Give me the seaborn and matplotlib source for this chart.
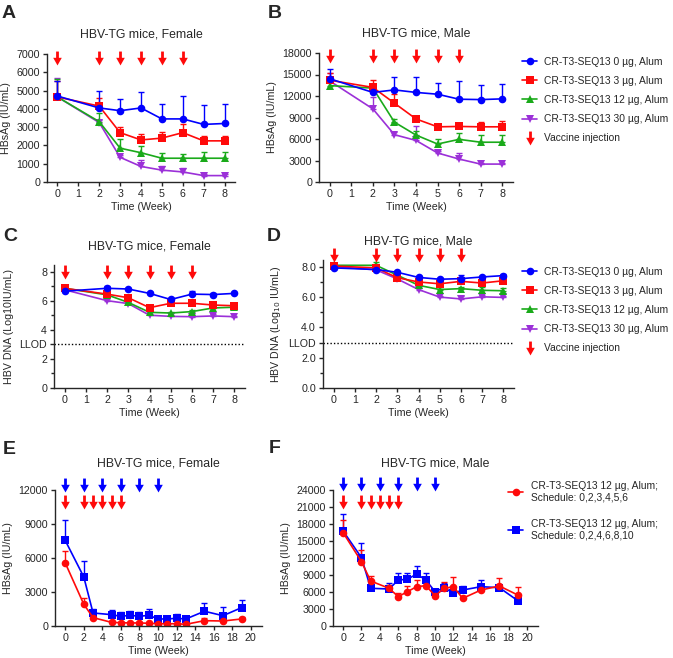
import numpy as np
import pandas as pd
import matplotlib
matplotlib.use("Agg")
import matplotlib.pyplot as plt
from matplotlib.path import Path
from matplotlib.lines import Line2D
import seaborn as sns

# time points (weeks)
weeks = [0, 2, 3, 4, 5, 6, 7, 8]
weeks_long = [0, 2, 3, 5, 6, 7, 8, 9, 10, 11, 12, 13, 15, 17, 19]
vaccine_weeks = [0, 2, 3, 4, 5, 6]
schedule1_weeks = [0, 2, 3, 4, 5, 6]
schedule2_weeks = [0, 2, 4, 6, 8, 10]

doses = ["0 µg", "3 µg", "12 µg", "30 µg"]

# A: HBsAg, female (mean, upper SD)
a_0ug = [4700, 4050, 3900, 4050, 3450, 3450, 3150, 3200]
a_0ug_sd = [800, 900, 650, 850, 800, 1250, 1050, 1050]
a_3ug = [4650, 4150, 2700, 2300, 2400, 2700, 2250, 2250]
a_3ug_sd = [900, 450, 300, 300, 350, 450, 250, 250]
a_12ug = [4650, 3300, 1850, 1600, 1300, 1300, 1300, 1300]
a_12ug_sd = [1000, 450, 500, 350, 300, 250, 350, 350]
a_30ug = [4650, 3250, 1350, 850, 650, 550, 350, 350]
a_30ug_sd = [1050, 150, 150, 350, 250, 200, 100, 100]

# B: HBsAg, male
b_0ug = [14400, 12500, 12850, 12500, 12250, 11550, 11500, 11600]
b_0ug_sd = [1350, 900, 1850, 2100, 1550, 2600, 2000, 2050]
b_3ug = [14200, 13200, 11000, 8800, 7700, 7750, 7700, 7700]
b_3ug_sd = [1000, 1050, 1250, 300, 250, 450, 700, 800]
b_12ug = [13450, 13100, 8350, 6550, 5300, 5950, 5550, 5550]
b_12ug_sd = [500, 400, 400, 500, 700, 850, 950, 1050]
b_30ug = [14100, 10200, 6600, 5800, 4050, 3200, 2500, 2500]
b_30ug_sd = [1150, 1700, 400, 2050, 250, 850, 200, 200]

# C: HBV DNA, female (log10 IU/mL)
c_0ug = [6.65, 6.85, 6.8, 6.5, 6.08, 6.45, 6.42, 6.5]
c_0ug_sd = [0.1, 0.15, 0.08, 0.08, 0.12, 0.2, 0.1, 0.08]
c_3ug = [6.85, 6.45, 6.2, 5.52, 5.82, 5.82, 5.7, 5.65]
c_3ug_sd = [0.1, 0.15, 0.2, 0.12, 0.15, 0.2, 0.12, 0.12]
c_12ug = [6.85, 6.4, 5.88, 5.2, 5.15, 5.25, 5.5, 5.55]
c_12ug_sd = [0.1, 0.1, 0.1, 0.1, 0.1, 0.12, 0.1, 0.1]
c_30ug = [6.75, 6.0, 5.8, 5.0, 4.92, 4.9, 4.95, 4.9]
c_30ug_sd = [0.1, 0.1, 0.1, 0.08, 0.08, 0.08, 0.1, 0.08]

# D: HBV DNA, male
d_0ug = [7.93, 7.82, 7.64, 7.3, 7.18, 7.22, 7.33, 7.42]
d_0ug_sd = [0.08, 0.1, 0.08, 0.1, 0.08, 0.25, 0.08, 0.08]
d_3ug = [8.05, 7.93, 7.28, 7.0, 6.88, 7.04, 6.93, 7.08]
d_3ug_sd = [0.1, 0.1, 0.1, 0.1, 0.1, 0.1, 0.1, 0.1]
d_12ug = [8.1, 8.1, 7.45, 6.78, 6.5, 6.56, 6.45, 6.42]
d_12ug_sd = [0.1, 0.2, 0.1, 0.1, 0.15, 0.1, 0.2, 0.2]
d_30ug = [8.02, 7.8, 7.2, 6.5, 6.0, 5.88, 6.02, 5.98]
d_30ug_sd = [0.1, 0.1, 0.1, 0.1, 0.1, 0.2, 0.1, 0.1]

# E: HBsAg, female, two schedules (12 µg)
e_sched1 = [5570, 1920, 740, 320, 290, 270, 270, 240, 200, 200, 200, 150, 470, 440, 620]
e_sched1_sd = [1030, 530, 260, 100, 100, 100, 100, 100, 80, 80, 80, 60, 210, 200, 210]
e_sched2 = [7550, 4330, 1150, 1000, 850, 950, 850, 950, 620, 620, 680, 620, 1300, 910, 1620]
e_sched2_sd = [1800, 1420, 350, 400, 400, 400, 400, 550, 180, 300, 350, 300, 700, 740, 650]

# F: HBsAg, male, two schedules
f_sched1 = [16470, 11350, 7940, 6650, 5180, 6060, 6940, 7120, 5350, 6650, 6940, 4880, 6350, 7060, 5470]
f_sched1_sd = [2230, 2060, 880, 600, 700, 1060, 1180, 1000, 1000, 1170, 1760, 500, 800, 1350, 1470]
f_sched2 = [16760, 12060, 6650, 6530, 8120, 8240, 9180, 8120, 6060, 6760, 5760, 6350, 6940, 6760, 4470]
f_sched2_sd = [2940, 2600, 300, 1000, 1170, 1110, 1470, 1180, 500, 770, 300, 770, 1180, 500, 300]

dose_labels = ["CR-T3-SEQ13 0 µg, Alum", "CR-T3-SEQ13 3 µg, Alum",
               "CR-T3-SEQ13 12 µg, Alum", "CR-T3-SEQ13 30 µg, Alum"]
sched_labels = ["CR-T3-SEQ13 12 µg, Alum;\nSchedule: 0,2,3,4,5,6",
                "CR-T3-SEQ13 12 µg, Alum;\nSchedule: 0,2,4,6,8,10"]

sns.set_style("ticks")
plt.rcParams["font.family"] = ["Liberation Sans", "DejaVu Sans"]
plt.rcParams["axes.linewidth"] = 1.0
plt.rcParams["xtick.major.width"] = 1.0
plt.rcParams["ytick.major.width"] = 1.0
plt.rcParams["xtick.major.size"] = 3
plt.rcParams["ytick.major.size"] = 3
plt.rcParams["ytick.minor.size"] = 2
plt.rcParams["ytick.minor.width"] = 1.0
plt.rcParams["xtick.labelsize"] = 7.7
plt.rcParams["ytick.labelsize"] = 7.7

BLUE = "#0000ff"
RED = "#ff0a0a"
GREEN = "#1aaa1a"
PURPLE = "#9b30d8"
dose_colors = {"0 µg": BLUE, "3 µg": RED, "12 µg": GREEN, "30 µg": PURPLE}
dose_markers = {"0 µg": "o", "3 µg": "s", "12 µg": "^", "30 µg": "v"}

arrow = Path([(-0.2, 1), (0.2, 1), (0.2, 0.1), (0.62, 0.1), (0, -1),
              (-0.62, 0.1), (-0.2, 0.1), (-0.2, 1)],
             [Path.MOVETO] + [Path.LINETO] * 6 + [Path.CLOSEPOLY])

W, H = 673, 658
fig = plt.figure(figsize=(W / 100, H / 100), dpi=100)


def add_axes(x0, x1, ytop, ybot):
    return fig.add_axes([x0 / W, 1 - ybot / H, (x1 - x0) / W, (ybot - ytop) / H])


def dose_panel(ax, series, sds):
    rows = []
    for d, vals in zip(doses, series):
        for w, v in zip(weeks, vals):
            rows.append({"week": w, "value": v, "group": d})
    df = pd.DataFrame(rows)
    order = ["30 µg", "12 µg", "3 µg", "0 µg"]
    for d in order:
        i = doses.index(d)
        ax.errorbar(weeks, series[i], yerr=[np.zeros(len(weeks)), sds[i]], fmt="none",
                    ecolor=dose_colors[d], elinewidth=1, capsize=2.5, capthick=1, zorder=1.5)
    sns.lineplot(data=df, x="week", y="value", hue="group", style="group",
                 hue_order=order, style_order=order, palette=dose_colors,
                 markers=dose_markers, dashes=False, markersize=5.5, markeredgewidth=0,
                 linewidth=1.2, legend=False, ax=ax, errorbar=None)
    ax.set_xlim(-0.5, 8.5)
    ax.set_xticks(range(0, 9))
    ax.set_xlabel("Time (Week)", fontsize=7.7, labelpad=2)


def sched_panel(ax, s1, s1_sd, s2, s2_sd):
    df = pd.DataFrame({"week": weeks_long * 2, "value": s2 + s1,
                       "group": ["s2"] * len(s2) + ["s1"] * len(s1)})
    pal = {"s1": RED, "s2": BLUE}
    for vals, sd, c in [(s2, s2_sd, BLUE), (s1, s1_sd, RED)]:
        ax.errorbar(weeks_long, vals, yerr=[np.zeros(len(vals)), sd], fmt="none",
                    ecolor=c, elinewidth=1, capsize=2.5, capthick=1, zorder=1.5)
    sns.lineplot(data=df, x="week", y="value", hue="group", style="group",
                 hue_order=["s2", "s1"], style_order=["s2", "s1"], palette=pal,
                 markers={"s1": "o", "s2": "s"}, dashes=False, markersize=5.5,
                 markeredgewidth=0, linewidth=1.2, legend=False, ax=ax, errorbar=None)
    ax.set_xlim(-1.1, 21.2)
    ax.set_xticks(range(0, 21, 2))
    ax.set_xlabel("Time (Week)", fontsize=7.7, labelpad=2)
    ax.set_ylabel("HBsAg (IU/mL)", fontsize=7.7)


def arrows(ax, xs, y, color):
    ax.plot(xs, [y] * len(xs), marker=arrow, linestyle="none", color=color,
            markersize=10, markeredgewidth=0, clip_on=False, zorder=5)


def llod_axis(ax, fmt):
    ax.set_ylim(0, 8.45)
    ticks = [0, 2, 3, 4, 6, 8]
    ax.set_yticks(ticks)
    ax.set_yticklabels([fmt.format(t) if t != 3 else "LLOD" for t in ticks])
    ax.set_yticks([1, 5, 7], minor=True)
    ax.axhline(3, color="black", linestyle=(0, (1, 1.5)), linewidth=1, zorder=1)


# ---- A
axA = add_axes(47, 235, 54, 182)
dose_panel(axA, [a_0ug, a_3ug, a_12ug, a_30ug], [a_0ug_sd, a_3ug_sd, a_12ug_sd, a_30ug_sd])
axA.set_ylim(0, 7000)
axA.set_yticks(range(0, 7001, 1000))
axA.set_ylabel("HBsAg (IU/mL)", fontsize=7.7)
axA.set_title("HBV-TG mice, Female", fontsize=8.8, pad=12)
arrows(axA, vaccine_weeks, 6800, RED)

# ---- B
axB = add_axes(319, 513, 53, 182)
dose_panel(axB, [b_0ug, b_3ug, b_12ug, b_30ug], [b_0ug_sd, b_3ug_sd, b_12ug_sd, b_30ug_sd])
axB.set_ylim(0, 18000)
axB.set_yticks(range(0, 18001, 3000))
axB.set_ylabel("HBsAg (IU/mL)", fontsize=7.7)
axB.set_title("HBV-TG mice, Male", fontsize=8.8, pad=12)
arrows(axB, vaccine_weeks, 17600, RED)

# ---- C
axC = add_axes(54, 245, 265, 388)
dose_panel(axC, [c_0ug, c_3ug, c_12ug, c_30ug], [c_0ug_sd, c_3ug_sd, c_12ug_sd, c_30ug_sd])
llod_axis(axC, "{:d}")
axC.set_ylabel("HBV DNA (Log10IU/mL)", fontsize=7.7)
axC.set_title("HBV-TG mice, Female", fontsize=8.8, pad=11)
arrows(axC, vaccine_weeks, 8.0, RED)

# ---- D
axD = add_axes(323, 514, 260, 388)
dose_panel(axD, [d_0ug, d_3ug, d_12ug, d_30ug], [d_0ug_sd, d_3ug_sd, d_12ug_sd, d_30ug_sd])
llod_axis(axD, "{:.1f}")
axD.set_ylabel("HBV DNA (Log$_{10}$ IU/mL)", fontsize=7.7)
axD.set_title("HBV-TG mice, Male", fontsize=8.8, pad=11)
arrows(axD, vaccine_weeks, 8.75, RED)

# ---- E
axE = add_axes(55, 262, 490, 626)
sched_panel(axE, e_sched1, e_sched1_sd, e_sched2, e_sched2_sd)
axE.set_ylim(0, 12000)
axE.set_yticks(range(0, 12001, 3000))
axE.set_title("HBV-TG mice, Female", fontsize=8.8, pad=17)
arrows(axE, schedule2_weeks, 12450, BLUE)
arrows(axE, schedule1_weeks, 10950, RED)

# ---- F
axF = add_axes(333, 538, 490, 626)
sched_panel(axF, f_sched1, f_sched1_sd, f_sched2, f_sched2_sd)
axF.set_ylim(0, 24000)
axF.set_yticks(range(0, 24001, 3000))
axF.set_title("HBV-TG mice, Male", fontsize=8.8, pad=17)
arrows(axF, schedule2_weeks, 25050, BLUE)
arrows(axF, schedule1_weeks, 21800, RED)

for ax in [axA, axB, axC, axD, axE, axF]:
    sns.despine(ax=ax)
    ax.tick_params(axis="both", pad=2)

# panel letters
for letter, x, y in [("A", 2, 5), ("B", 268, 5), ("C", 3, 228), ("D", 267, 228),
                     ("E", 3, 441), ("F", 269, 440)]:
    fig.text(x / W, 1 - y / H, letter, fontsize=14, fontweight="bold", va="top", ha="left")

# legends
def dose_handles():
    hs = [Line2D([], [], color=dose_colors[d], marker=dose_markers[d], markersize=5.5,
                 markeredgewidth=0, linewidth=1.2) for d in doses]
    hs.append(Line2D([], [], color=RED, marker=arrow, markersize=10, markeredgewidth=0,
                     linestyle="none"))
    return hs


for ytop in [57, 267]:
    fig.legend(dose_handles(), dose_labels + ["Vaccine injection"], loc="upper left",
               bbox_to_anchor=(522 / W, 1 - ytop / H), frameon=False, fontsize=7.4,
               handlelength=1.5, handletextpad=0.6, labelspacing=0.88,
               borderpad=0, borderaxespad=0)

sched_handles = [Line2D([], [], color=RED, marker="o", markersize=5.5, markeredgewidth=0, linewidth=1.2),
                 Line2D([], [], color=BLUE, marker="s", markersize=5.5, markeredgewidth=0, linewidth=1.2)]
fig.legend(sched_handles, sched_labels, loc="upper left",
           bbox_to_anchor=(508 / W, 1 - 481 / H), frameon=False, fontsize=7.4,
           handlelength=1.5, handletextpad=0.7, labelspacing=1.55,
           borderpad=0, borderaxespad=0)

fig.savefig("out.png", dpi=100)
